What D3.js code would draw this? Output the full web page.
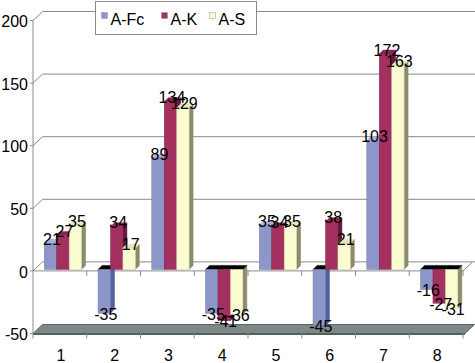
<!DOCTYPE html>
<html>
<head>
<meta charset="utf-8">
<script src="https://cdn.jsdelivr.net/npm/d3@7"></script>
<style>
  body { margin: 0; background: #fff; }
  text { font-family: Arial, "Liberation Sans", sans-serif; }
</style>
</head>
<body>
<div id="chart"></div>
<script>
// chart values
const categories = ["1", "2", "3", "4", "5", "6", "7", "8"];
const seriesNames = ["A-Fc", "A-K", "A-S"];
const valuesFc = [21, -35, 89, -35, 35, -45, 103, -16];
const valuesK = [27, 34, 134, -41, 34, 38, 172, -27];
const valuesS = [35, 17, 129, -36, 35, 21, 163, -31];
const yTicks = [-50, 0, 50, 100, 150, 200];

const width = 475, height = 363;
const depth = {x: 9.5, y: -9};      // back wall offset
const barDepth = {x: 4, y: -4};     // 3d box offset of each column

// colours: front, side, top
const colors = [
    {front: "#8c96c8", side: "#56609a", top: "#aab2dc"},
    {front: "#a3305f", side: "#65193a", top: "#8a2550"},
    {front: "#fbfbd0", side: "#8a8c6c", top: "#e8e8bc"}
];

const svg = d3.select("#chart").append("svg")
    .attr("width", width)
    .attr("height", height);

const y = d3.scaleLinear().domain([-50, 200]).range([333.5, 20.5]);
const x = d3.scaleBand().domain(categories).range([33, 463]).paddingInner(0);
const xInner = d3.scaleBand().domain(seriesNames).range([11.3, 48.6]).paddingInner(0);

const x0 = x.range()[0], x1 = x.range()[1];

// floor
const yb = y(-50);
svg.append("path")
    .attr("d", `M${x0},${yb} L${x0 + depth.x},${yb + depth.y} L${x1 + depth.x + 2},${yb + depth.y} L${x1 + 2},${yb} Z`)
    .attr("fill", "#7d8887")
    .attr("stroke", "#5d6666")
    .attr("stroke-width", 1);
svg.append("line")
    .attr("x1", x0).attr("x2", x1 + 2)
    .attr("y1", yb + 0.5).attr("y2", yb + 0.5)
    .attr("stroke", "#555e5e").attr("stroke-width", 2);

// back gridlines + diagonal ticks
yTicks.filter(d => d > -50).forEach(t => {
    const yy = y(t);
    svg.append("path")
        .attr("d", `M${x0},${yy} L${x0 + depth.x},${yy + depth.y} L${width},${yy + depth.y}`)
        .attr("fill", "none")
        .attr("stroke", "#8a8a8a")
        .attr("stroke-width", 1);
});

// zero plane front edge
const y0 = y(0);
svg.append("path")
    .attr("d", `M${x0},${y0} L${x1},${y0} L${x1 + depth.x},${y0 + depth.y}`)
    .attr("fill", "none")
    .attr("stroke", "#8a8a8a");

// category ticks on zero line and floor
d3.range(categories.length + 1).forEach(i => {
    const xx = x0 + i * x.bandwidth();
    if (i > 0) {
        svg.append("line").attr("x1", xx).attr("x2", xx)
            .attr("y1", y0).attr("y2", y0 + 5).attr("stroke", "#8a8a8a");
    }
    svg.append("line").attr("x1", xx).attr("x2", xx)
        .attr("y1", yb).attr("y2", yb + 5).attr("stroke", "#8a8a8a");
});

// value axis
svg.append("line")
    .attr("x1", x0).attr("x2", x0)
    .attr("y1", y(200)).attr("y2", yb)
    .attr("stroke", "#8a8a8a");
yTicks.forEach(t => {
    svg.append("line")
        .attr("x1", x0 - 3).attr("x2", x0)
        .attr("y1", y(t)).attr("y2", y(t))
        .attr("stroke", "#8a8a8a");
    svg.append("text")
        .attr("x", 28)
        .attr("y", y(t) + 1)
        .attr("dy", "0.35em")
        .attr("text-anchor", "end")
        .style("font-size", "16px")
        .text(t);
});

// category labels
svg.selectAll(".cat")
    .data(categories)
    .enter()
    .append("text")
    .attr("class", "cat")
    .attr("x", d => x(d) + x.bandwidth() / 2 + 1)
    .attr("y", 355)
    .attr("dy", "0.35em")
    .attr("text-anchor", "middle")
    .style("font-size", "16px")
    .text(d => d);

// bars
const seriesValues = [valuesFc, valuesK, valuesS];
const bars = [];
categories.forEach((c, ci) => {
    seriesNames.forEach((s, si) => {
        bars.push({cat: c, series: si, value: seriesValues[si][ci]});
    });
});

const lift = 1.5;   // columns stand a little behind the front plane
const yBar = v => y(v) - lift;
const dx = barDepth.x, dy = barDepth.y;

const g = svg.append("g");
bars.forEach(d => {
    const bx = x(d.cat) + xInner(seriesNames[d.series]);
    const bw = xInner.bandwidth();
    const yTop = yBar(Math.max(0, d.value));
    const yBot = yBar(Math.min(0, d.value));
    const col = colors[d.series];

    // side face
    g.append("path")
        .attr("d", `M${bx + bw},${yTop} L${bx + bw + dx},${yTop + dy} L${bx + bw + dx},${yBot + dy} L${bx + bw},${yBot} Z`)
        .attr("fill", col.side)
        .attr("stroke", col.side).attr("stroke-width", 0.5);
    // top face
    g.append("path")
        .attr("d", `M${bx},${yTop} L${bx + dx},${yTop + dy} L${bx + bw + dx},${yTop + dy} L${bx + bw},${yTop} Z`)
        .attr("fill", d.value < 0 ? "#000" : col.top)
        .attr("stroke", d.value < 0 ? "#000" : col.top).attr("stroke-width", 0.5);
    // front face
    g.append("rect")
        .attr("x", bx)
        .attr("y", yTop)
        .attr("width", bw)
        .attr("height", yBot - yTop)
        .attr("fill", col.front)
        .attr("stroke", d3.color(col.front).darker(0.6))
        .attr("stroke-width", 0.5);
});

// data labels
svg.selectAll(".lbl")
    .data(bars)
    .enter()
    .append("text")
    .attr("class", "lbl")
    .attr("x", d => x(d.cat) + xInner(seriesNames[d.series]) + xInner.bandwidth() / 2 + 1.5)
    .attr("y", d => d.value >= 0 ? yBar(d.value) - 4 : yBar(d.value) + 1)
    .attr("dy", "0.35em")
    .attr("text-anchor", "middle")
    .style("font-size", "16px")
    .text(d => d.value);

// legend
const legend = svg.append("g");
legend.append("rect")
    .attr("x", 95.5).attr("y", 1.5)
    .attr("width", 161).attr("height", 33)
    .attr("fill", "#fff")
    .attr("stroke", "#8a8a8a");
const legendX = [101.5, 161.5, 209.5];
seriesNames.forEach((s, i) => {
    legend.append("rect")
        .attr("x", legendX[i]).attr("y", 12.5)
        .attr("width", 6).attr("height", 6)
        .attr("fill", colors[i].front)
        .attr("stroke", "#999").attr("stroke-width", 0.5);
    legend.append("text")
        .attr("x", legendX[i] + 9)
        .attr("y", 24.5)
        .style("font-size", "16px")
        .text(s);
});
</script>
</body>
</html>
